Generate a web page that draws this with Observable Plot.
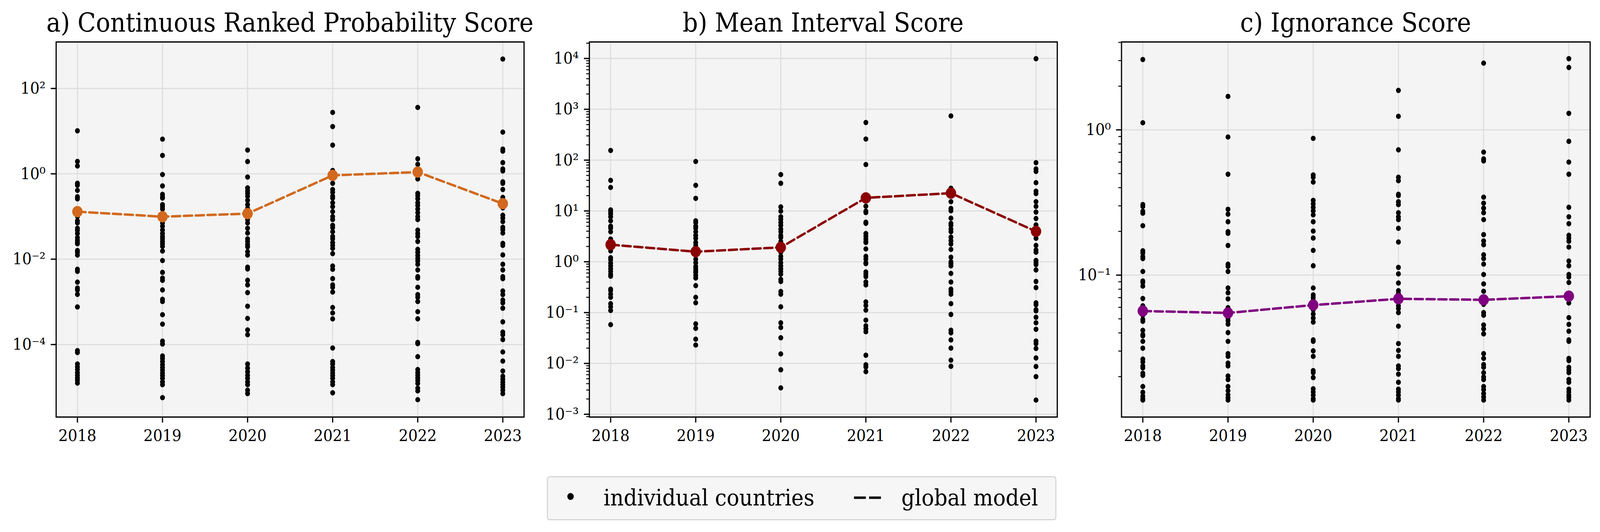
<!DOCTYPE html>
<html>
<head>
<meta charset="utf-8">
<script src="https://cdn.jsdelivr.net/npm/d3@7"></script>
<script src="https://cdn.jsdelivr.net/npm/@observablehq/plot@0.6"></script>
<style>
  html, body { margin: 0; padding: 0; background: #fff; overflow: hidden; }
  #fig { position: relative; width: 4459px; height: 1363px; background: #fff; font-family: "DejaVu Serif", serif; overflow: hidden; transform-origin: 0 0; }
  .panel { position: absolute; top: 0; }
  .title { position: absolute; top: 25px; width: 2000px; text-align: center; font-size: 66.67px; line-height: 1; color: #000; white-space: nowrap; }
  .panel svg g[aria-label="x-axis tick"] path, .panel svg g[aria-label="y-axis tick"] path { stroke-width: 3.3px; }
  .panel svg g.minor path { stroke-width: 2.5px; }
  #legend { position: absolute; left: 1524px; top: 1220px; width: 1420px; height: 113px; box-sizing: border-box;
            border: 3px solid #d5d5d5; border-radius: 8px; background: #f6f6f6; }
  #legend .lbl { position: absolute; font-size: 58.3px; line-height: 1; white-space: nowrap; color: #000; top: 23px; }
</style>
</head>
<body>
<div id="fig"></div>
<script>
const years = [2018, 2019, 2020, 2021, 2022, 2023];

// a) Continuous Ranked Probability Score — individual countries per year
const crpsCountries = [
  [10.2, 1.95, 1.53, 0.60, 0.54, 0.41, 0.29, 0.26, 0.13, 0.10, 0.079, 0.071, 0.053, 0.047, 0.040, 0.032, 0.028, 0.025, 0.023, 0.016, 0.0145, 0.0125, 0.0058, 0.0052, 0.0029, 0.0021, 0.0019, 0.0015, 0.00076, 7.2e-5, 6.5e-5, 3.5e-5, 3.0e-5, 2.6e-5, 2.2e-5, 1.9e-5, 1.65e-5, 1.45e-5, 1.25e-5],
  [6.5, 2.7, 0.96, 0.52, 0.33, 0.29, 0.27, 0.19, 0.17, 0.15, 0.10, 0.085, 0.071, 0.059, 0.048, 0.040, 0.034, 0.030, 0.026, 0.023, 0.020, 0.0155, 0.0093, 0.0049, 0.0036, 0.0032, 0.0019, 0.00115, 0.00102, 0.00050, 0.00030, 0.00012, 0.000103, 5.4e-5, 4.7e-5, 4.0e-5, 3.4e-5, 2.9e-5, 2.5e-5, 2.15e-5, 1.87e-5, 1.62e-5, 1.33e-5, 1.15e-5, 5.7e-6],
  [3.6, 1.94, 0.84, 0.47, 0.40, 0.35, 0.30, 0.24, 0.19, 0.155, 0.118, 0.085, 0.071, 0.053, 0.041, 0.030, 0.026, 0.022, 0.0195, 0.015, 0.0125, 0.0065, 0.0059, 0.0032, 0.0025, 0.00165, 0.00079, 0.00041, 0.00022, 0.00017, 3.5e-5, 2.8e-5, 2.3e-5, 1.9e-5, 1.62e-5, 1.33e-5, 1.15e-5, 8.5e-6, 7.1e-6],
  [27.5, 12.8, 4.7, 1.2, 1.08, 0.93, 0.80, 0.60, 0.43, 0.37, 0.30, 0.27, 0.21, 0.17, 0.13, 0.10, 0.085, 0.062, 0.055, 0.044, 0.034, 0.030, 0.0245, 0.021, 0.018, 0.0135, 0.0069, 0.0058, 0.0035, 0.0025, 0.0022, 0.0017, 0.00074, 0.00055, 0.00040, 8.3e-5, 4.0e-5, 3.5e-5, 2.9e-5, 2.5e-5, 2.15e-5, 1.87e-5, 1.62e-5, 1.33e-5, 1.15e-5, 7.4e-6],
  [36, 2.25, 1.67, 1.11, 0.90, 0.76, 0.35, 0.31, 0.26, 0.21, 0.18, 0.15, 0.123, 0.10, 0.085, 0.048, 0.040, 0.034, 0.026, 0.017, 0.0145, 0.0122, 0.0105, 0.0091, 0.0076, 0.0056, 0.0039, 0.0036, 0.0022, 0.00148, 0.00128, 0.00102, 0.00059, 0.00040, 0.000112, 0.000105, 5.2e-5, 2.6e-5, 2.2e-5, 1.9e-5, 1.65e-5, 1.44e-5, 1.23e-5, 9.5e-6, 8.2e-6, 5.1e-6],
  [490, 9.5, 3.8, 3.4, 1.83, 1.30, 1.17, 0.65, 0.60, 0.43, 0.28, 0.24, 0.21, 0.16, 0.107, 0.092, 0.076, 0.056, 0.049, 0.041, 0.0234, 0.021, 0.0126, 0.0076, 0.0056, 0.0039, 0.0035, 0.0018, 0.00148, 0.00110, 0.00095, 0.00071, 0.00034, 0.000196, 0.00017, 0.000131, 6.7e-5, 4.1e-5, 2.4e-5, 1.8e-5, 1.54e-5, 1.33e-5, 1.15e-5, 1.0e-5, 8.5e-6, 7.1e-6]
];
const crpsGlobal = [0.13, 0.099, 0.117, 0.92, 1.1, 0.20];

// b) Mean Interval Score
const misCountries = [
  [155, 40, 29, 10.5, 9.6, 8.7, 7.7, 6.4, 5.0, 4.6, 3.9, 2.8, 2.4, 2.2, 1.86, 1.64, 1.2, 1.09, 0.94, 0.83, 0.73, 0.65, 0.57, 0.52, 0.29, 0.27, 0.23, 0.20, 0.15, 0.13, 0.11, 0.058],
  [94, 32, 17.7, 6.4, 5.9, 5.0, 4.6, 3.9, 3.3, 2.9, 2.4, 2.1, 1.86, 1.58, 1.36, 1.12, 0.96, 0.81, 0.73, 0.66, 0.61, 0.54, 0.48, 0.34, 0.20, 0.156, 0.060, 0.049, 0.030, 0.023],
  [52, 35, 12, 9.9, 7.7, 6.8, 5.9, 5.2, 4.4, 3.9, 3.3, 3.0, 2.5, 1.93, 1.54, 1.28, 1.13, 0.96, 0.83, 0.73, 0.65, 0.57, 0.45, 0.41, 0.26, 0.23, 0.13, 0.063, 0.051, 0.032, 0.0154, 0.0075, 0.0033],
  [550, 260, 82, 18.2, 16.2, 12.4, 9.9, 9.3, 6.0, 5.7, 3.6, 3.2, 2.8, 2.5, 2.4, 1.79, 1.28, 1.13, 0.96, 0.92, 0.63, 0.57, 0.51, 0.40, 0.35, 0.162, 0.138, 0.112, 0.071, 0.055, 0.048, 0.042, 0.0145, 0.0094, 0.0085, 0.0069],
  [740, 28, 22.4, 15.2, 11.2, 10.1, 7.2, 5.7, 5.2, 4.4, 3.9, 3.05, 2.6, 2.24, 1.75, 1.23, 1.0, 0.92, 0.83, 0.59, 0.40, 0.29, 0.26, 0.23, 0.15, 0.092, 0.045, 0.040, 0.029, 0.020, 0.0116, 0.0088],
  [9900, 89, 67, 60, 36, 24.5, 22, 15.2, 12.3, 9.5, 7.1, 5.3, 3.95, 2.9, 2.1, 1.70, 1.54, 1.06, 0.96, 0.88, 0.69, 0.41, 0.31, 0.156, 0.143, 0.114, 0.108, 0.081, 0.063, 0.047, 0.0275, 0.0245, 0.0197, 0.0128, 0.0087, 0.0055, 0.0019]
];
const misGlobal = [2.17, 1.58, 1.92, 18.1, 22.4, 3.96];

// c) Ignorance Score
const ignCountries = [
  [3.05, 1.12, 0.306, 0.297, 0.275, 0.267, 0.219, 0.147, 0.142, 0.134, 0.130, 0.106, 0.091, 0.089, 0.084, 0.069, 0.0615, 0.0566, 0.0529, 0.0495, 0.0481, 0.0417, 0.039, 0.0382, 0.035, 0.0314, 0.0264, 0.0253, 0.0237, 0.023, 0.0211, 0.0204, 0.0171, 0.0156, 0.0147, 0.0141, 0.0138],
  [1.70, 0.893, 0.495, 0.284, 0.263, 0.233, 0.199, 0.194, 0.16, 0.119, 0.115, 0.106, 0.0816, 0.0755, 0.0686, 0.0597, 0.0547, 0.0506, 0.0485, 0.046, 0.0402, 0.035, 0.0288, 0.0276, 0.0248, 0.0237, 0.0202, 0.0191, 0.0171, 0.016, 0.015, 0.0143, 0.0138],
  [0.874, 0.489, 0.472, 0.437, 0.327, 0.31, 0.293, 0.277, 0.26, 0.233, 0.201, 0.180, 0.148, 0.116, 0.0816, 0.0731, 0.0701, 0.0671, 0.0621, 0.0577, 0.054, 0.0506, 0.0475, 0.0358, 0.035, 0.0301, 0.0276, 0.022, 0.0213, 0.0197, 0.0165, 0.0157, 0.0149, 0.0141, 0.0138],
  [1.87, 1.24, 0.729, 0.472, 0.447, 0.36, 0.353, 0.32, 0.306, 0.269, 0.252, 0.241, 0.21, 0.169, 0.113, 0.102, 0.0882, 0.0781, 0.0748, 0.0686, 0.0656, 0.0615, 0.0589, 0.0552, 0.0445, 0.0338, 0.0303, 0.0276, 0.0237, 0.0227, 0.0208, 0.0183, 0.0164, 0.0157, 0.0149, 0.0141, 0.0138],
  [2.88, 0.703, 0.631, 0.612, 0.344, 0.313, 0.289, 0.269, 0.241, 0.19, 0.172, 0.162, 0.138, 0.13, 0.119, 0.101, 0.0871, 0.0774, 0.0675, 0.0629, 0.0552, 0.0529, 0.0454, 0.0426, 0.0394, 0.0288, 0.0267, 0.0242, 0.0232, 0.0213, 0.0199, 0.0191, 0.0171, 0.0163, 0.0153, 0.0145, 0.0138],
  [3.09, 2.69, 1.30, 0.834, 0.60, 0.495, 0.293, 0.252, 0.226, 0.188, 0.18, 0.171, 0.156, 0.125, 0.116, 0.101, 0.097, 0.089, 0.0716, 0.0643, 0.051, 0.0458, 0.0411, 0.0358, 0.035, 0.0267, 0.0258, 0.0232, 0.0222, 0.0213, 0.0191, 0.0183, 0.0164, 0.0157, 0.0149, 0.0144, 0.0138]
];
const ignGlobal = [0.0566, 0.0549, 0.0622, 0.0687, 0.0676, 0.0716];

// tick values
const crpsTicks = [1e-4, 1e-2, 1, 1e2];
const misTicks = [1e-3, 1e-2, 1e-1, 1, 1e1, 1e2, 1e3, 1e4];
const ignTicks = [1e-1, 1];

const titles = ["a) Continuous Ranked Probability Score", "b) Mean Interval Score", "c) Ignorance Score"];
const colors = ["#d2691e", "#8b0000", "#800080"];
const legendLabels = ["individual countries", "global model"];

// minor ticks (2..9 per decade) within a domain
function minorTicks(lo, hi) {
  const out = [];
  for (let e = Math.floor(Math.log10(lo)); e <= Math.ceil(Math.log10(hi)); e++) {
    for (let m = 2; m <= 9; m++) {
      const v = m * Math.pow(10, e);
      if (v >= lo && v <= hi) out.push(v);
    }
  }
  return out;
}

const supMap = {"-": "\u207B", "0": "\u2070", "1": "\u00B9", "2": "\u00B2", "3": "\u00B3", "4": "\u2074", "5": "\u2075", "6": "\u2076", "7": "\u2077", "8": "\u2078", "9": "\u2079"};
const pow10 = d => "10" + String(Math.round(Math.log10(d))).split("").map(c => supMap[c]).join("");

const H = 1190, MT = 107, MB = H - 1068;
const FONT = "DejaVu Serif";
const fig = document.getElementById("fig");

function panel({countries, global, color, domain, majors, minors, left, width, marginLeft, marginRight, title}) {
  const dots = countries.flatMap((vals, i) => vals.map(v => ({year: years[i], value: v})));
  const line = years.map((y, i) => ({year: y, value: global[i]}));
  const marks = [
    Plot.frame({fill: "#f4f4f4"}),
    Plot.gridX({ticks: years, stroke: "#dedede", strokeOpacity: 1, strokeWidth: 3}),
    Plot.gridY({ticks: majors, stroke: "#dedede", strokeOpacity: 1, strokeWidth: 3}),
    Plot.dot(dots, {x: "year", y: "value", r: 6.8, fill: "#000"}),
    Plot.line(line, {x: "year", y: "value", stroke: color, strokeWidth: 6.25, strokeDasharray: "23,10"}),
    Plot.dot(line, {x: "year", y: "value", r: 14.5, fill: color}),
    Plot.frame({stroke: "#000", strokeWidth: 3.3}),
    Plot.axisX({ticks: years, tickFormat: d => String(d), tickSize: 14.6, tickPadding: 17, strokeWidth: 3.3, fontSize: 41.67, fill: "#000", stroke: "#000"}),
    Plot.axisY({ticks: majors, tickFormat: pow10, tickSize: 14.6, tickPadding: 15, strokeWidth: 3.3, fontSize: 41.67, fill: "#000", stroke: "#000"})
  ];
  if (minors.length) {
    marks.push(Plot.axisY({ticks: minors, tickFormat: () => "", tickSize: 8.3, strokeWidth: 2.5, stroke: "#000", className: "minor"}));
  }
  const svg = Plot.plot({
    width, height: H, marginLeft, marginRight, marginTop: MT, marginBottom: MB,
    style: {fontFamily: FONT, fontSize: "41.67px", background: "transparent", color: "#000", overflow: "visible", maxWidth: "none"},
    x: {type: "linear", domain: [2017.75, 2023.25], label: null},
    y: {type: "log", domain, label: null},
    marks
  });
  const div = document.createElement("div");
  div.className = "panel";
  div.style.left = left + "px";
  div.appendChild(svg);
  fig.appendChild(div);
  const t = document.createElement("div");
  t.className = "title";
  t.textContent = title;
  const center = left + marginLeft + (width - marginLeft - marginRight) / 2;
  t.style.left = (center - 1000) + "px";
  fig.appendChild(t);
}

const domA = [2.0e-6, 1230], domB = [8.81e-4, 21135], domC = [0.01054, 4.03];

panel({countries: crpsCountries, global: crpsGlobal, color: colors[0], domain: domA, majors: crpsTicks, minors: [],
       left: 0, width: 1490, marginLeft: 156, marginRight: 30, title: titles[0]});
panel({countries: misCountries, global: misGlobal, color: colors[1], domain: domB, majors: misTicks, minors: minorTicks(domB[0], domB[1]),
       left: 1490, width: 1480, marginLeft: 152, marginRight: 24, title: titles[1]});
panel({countries: ignCountries, global: ignGlobal, color: colors[2], domain: domC, majors: ignTicks, minors: minorTicks(domC[0], domC[1]),
       left: 2970, width: 1489, marginLeft: 155, marginRight: 28, title: titles[2]});

// legend
const lg = document.createElement("div");
lg.id = "legend";
lg.innerHTML = `
  <svg width="1414" height="107" style="position:absolute;left:0;top:0">
    <circle cx="63" cy="49" r="9" fill="#000"></circle>
    <line x1="853" x2="929" y1="52" y2="52" stroke="#000" stroke-width="6.25" stroke-dasharray="33,9"></line>
  </svg>
  <span class="lbl" style="left:155px">${legendLabels[0]}</span>
  <span class="lbl" style="left:985px">${legendLabels[1]}</span>`;
fig.appendChild(lg);

// fit the 4459×1363 figure into the actual viewport (fill it in both directions)
function fit() {
  const sx = window.innerWidth / 4459, sy = window.innerHeight / 1363;
  fig.style.transform = `scale(${sx}, ${sy})`;
}
fit();
window.addEventListener("resize", fit);
</script>
</body>
</html>
